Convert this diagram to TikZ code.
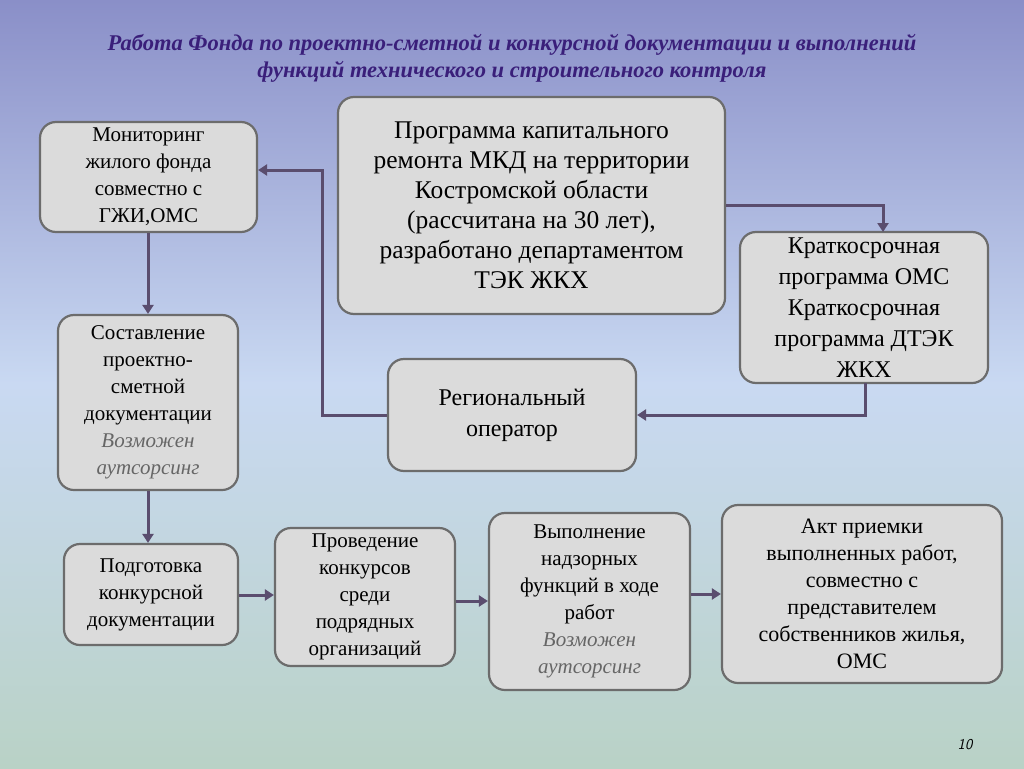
\documentclass[tikz,border=0pt]{standalone}
\usepackage{fontspec}
\setmainfont{Liberation Serif}
\usetikzlibrary{arrows.meta}
\definecolor{arrowcol}{HTML}{5A4D6E}
\definecolor{titlecol}{HTML}{3A1F7A}
\definecolor{bgtop}{HTML}{8A8FC8}
\definecolor{bgmid}{HTML}{C9D9F2}
\definecolor{bgbot}{HTML}{B9D2C6}
\begin{document}
\begin{tikzpicture}[
        x=1pt,
        y=-1pt,
        box/.style={
            rectangle,
            rounded corners=16pt,
            draw=gray!85!black,
            line width=2.2pt,
            fill=black!14,
            align=center,
            inner sep=2pt,
            font=\fontsize{21}{27}\selectfont
        },
        link/.style={
            draw=arrowcol,
            line width=3pt,
            -{Triangle[length=9pt,width=11pt]}
        },
    ]
        % background
        \shade[top color=bgtop, bottom color=bgbot, middle color=bgmid]
            (0,0) rectangle (1024,768);
        \useasboundingbox (0,0) rectangle (1024,768);
        \node [font=\fontsize{22.5}{27}\selectfont\bfseries\itshape, text=titlecol, align=center] (title)
            at (512,58) {Работа Фонда по проектно-сметной и конкурсной документации и выполнений\\функций технического и строительного контроля};
        \node [box, minimum width=217pt, minimum height=110pt] (monitoring) at (148.5,177)
            {Мониторинг\\жилого фонда\\совместно с\\ГЖИ,ОМС};
        \node [box, minimum width=387pt, minimum height=217pt, font=\fontsize{25.5}{30}\selectfont] (programma) at (531.5,205.5)
            {Программа капитального\\ремонта МКД на территории\\Костромской области\\(рассчитана на 30 лет),\\разработано департаментом\\ТЭК ЖКХ};
        \node [box, minimum width=248pt, minimum height=151pt, font=\fontsize{24}{31}\selectfont] (kratkosroch) at (864,307.5)
            {Краткосрочная\\программа ОМС\\Краткосрочная\\программа ДТЭК\\ЖКХ};
        \node [box, minimum width=180pt, minimum height=175pt] (sostavlenie) at (148,402.5)
            {Составление\\проектно-\\сметной\\документации\\\textcolor{black!60}{\itshape Возможен}\\\textcolor{black!60}{\itshape аутсорсинг}};
        \node [box, minimum width=248pt, minimum height=112pt, font=\fontsize{24}{31}\selectfont] (operator) at (512,415)
            {Региональный\\оператор};
        \node [box, minimum width=174pt, minimum height=101pt] (podgotovka) at (151,594.5)
            {Подготовка\\конкурсной\\документации};
        \node [box, minimum width=180pt, minimum height=138pt] (konkursy) at (365,597)
            {Проведение\\конкурсов\\среди\\подрядных\\организаций};
        \node [box, minimum width=201pt, minimum height=177pt] (nadzor) at (589.5,601.5)
            {Выполнение\\надзорных\\функций в ходе\\работ\\\textcolor{black!60}{\itshape Возможен}\\\textcolor{black!60}{\itshape аутсорсинг}};
        \node [box, minimum width=280pt, minimum height=178pt, font=\fontsize{22}{27}\selectfont] (akt) at (862,594)
            {Акт приемки\\выполненных работ,\\совместно с\\представителем\\собственников жилья,\\ОМС};
        \node [font=\sffamily\itshape\fontsize{15}{18}\selectfont] (page) at (965,745) {10};
        \draw [link] (programma.east |- 0,205) -| (883,232);
        \draw [link] (865,383) |- (operator.east);
        \draw [link] (operator.west) -| (322,170) -- (monitoring.east |- 0,170);
        \draw [link] (monitoring.south -| 148,0) -- (sostavlenie.north);
        \draw [link] (sostavlenie.south) -- (podgotovka.north -| 148,0);
        \draw [link] (podgotovka.east |- 0,595) -- (konkursy.west |- 0,595);
        \draw [link] (konkursy.east |- 0,601) -- (nadzor.west |- 0,601);
        \draw [link] (nadzor.east |- 0,594) -- (akt.west |- 0,594);
    \end{tikzpicture}
\end{document}
